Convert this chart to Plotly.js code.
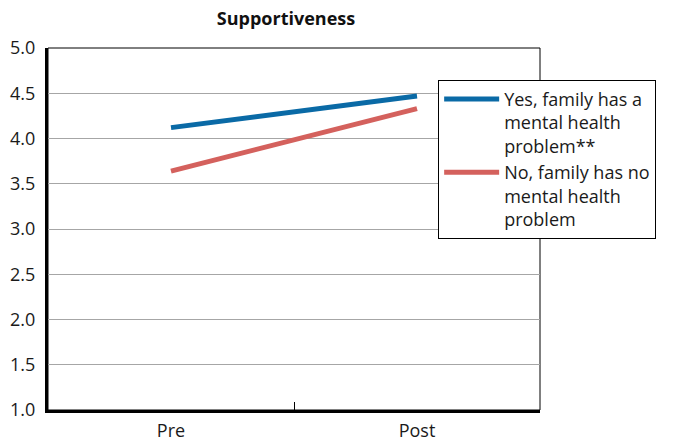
<!DOCTYPE html>
<html>
<head>
<meta charset="utf-8">
<script src="https://cdn.plot.ly/plotly-3.0.1.min.js"></script>
<style>html,body{margin:0;padding:0;background:#fff;}#chart{width:673px;height:443px;}</style>
</head>
<body>
<div id="chart"></div>
<script>
var categories = ["Pre", "Post"];
var yesValues = [4.12, 4.47];
var noValues = [3.64, 4.33];
var seriesNames = ["Yes, family has a<br>mental health<br>problem**", "No, family has no<br>mental health<br>problem"];
var yTicks = [1.0, 1.5, 2.0, 2.5, 3.0, 3.5, 4.0, 4.5, 5.0];
var yTickText = ["1.0", "1.5", "2.0", "2.5", "3.0", "3.5", "4.0", "4.5", "5.0"];

var traces = [
  {x: categories, y: yesValues, name: seriesNames[0], type: "scatter", mode: "lines",
   line: {color: "#0a6aa6", width: 5}},
  {x: categories, y: noValues, name: seriesNames[1], type: "scatter", mode: "lines",
   line: {color: "#d4615d", width: 5}}
];

var layout = {
  width: 673, height: 443,
  margin: {l: 48, r: 133, t: 48, b: 33},
  paper_bgcolor: "#fff", plot_bgcolor: "#fff",
  font: {family: "Open Sans, sans-serif", size: 18, color: "#1a1a1a"},
  title: {text: "<b>Supportiveness</b>", x: 0.425, xanchor: "center", y: 0.958, yanchor: "middle",
          font: {family: "Open Sans, sans-serif", size: 18, color: "#111"}},
  xaxis: {type: "category", range: [-0.5, 1.5], showline: true, linecolor: "#000", linewidth: 3,
          ticks: "inside", tickson: "boundaries", ticklen: 8, tickcolor: "#000", tickwidth: 1,
          showgrid: false, zeroline: false, fixedrange: true, ticklabelstandoff: 2,
          tickfont: {size: 18, color: "#1a1a1a"}},
  yaxis: {range: [1, 5], tickvals: yTicks, ticktext: yTickText, showline: true, linecolor: "#000",
          linewidth: 3, ticks: "", showgrid: true, gridcolor: "#a6a6a6", gridwidth: 1,
          zeroline: false, fixedrange: true, ticklabelstandoff: 6,
          tickfont: {size: 18, color: "#1a1a1a"}},
  shapes: [
    {type: "rect", xref: "paper", yref: "paper", x0: 0, x1: 1, y0: 0, y1: 1,
     line: {color: "#000", width: 1}, layer: "below"}
  ],
  showlegend: true,
  legend: {x: 0.793, xanchor: "left", y: 0.912, yanchor: "top", xref: "paper",
           bgcolor: "#fff", bordercolor: "#000", borderwidth: 1, valign: "top",
           itemwidth: 55,
           font: {size: 18, color: "#1a1a1a"}, tracegroupgap: 7}
};

Plotly.newPlot("chart", traces, layout, {displayModeBar: false, staticPlot: true});
</script>
</body>
</html>
